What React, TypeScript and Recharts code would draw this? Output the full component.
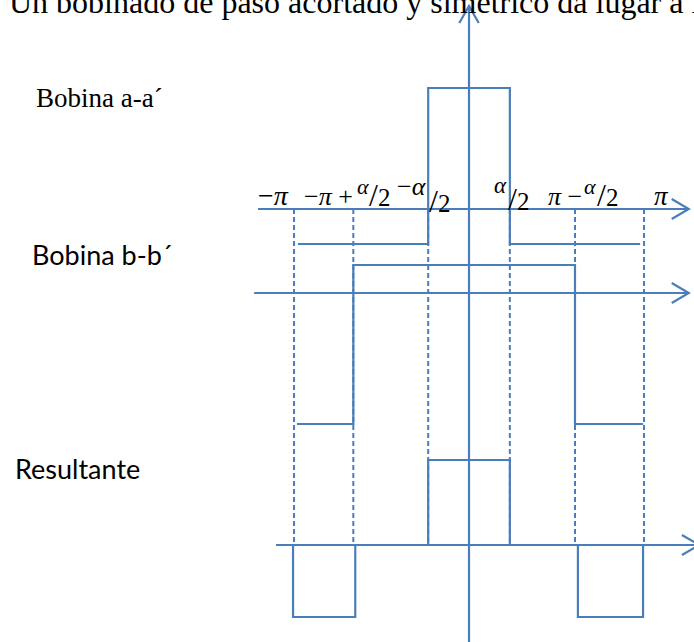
import React from "react";
import { LineChart, Line, XAxis, YAxis } from "recharts";

const W = 694;
const H = 642;
const BLUE = "#4A7EBB";

// electrical angle (degrees) at the marked phases: −π, −π+α/2, −α/2, α/2, π−α/2, π
const phases = [-180, -119, -42, 42, 109, 180];

// Bobina a-a´: wide negative step each side, tall positive pulse in the middle
const bobinaAX = [-176, -42, -42, 42, 42, 176];
const bobinaAY = [-35, -35, 121, 121, -35, -35];

// Bobina b-b´: small positive plateau, deep negative ends
const bobinaBX = [-177, -119, -119, 109, 109, 179];
const bobinaBY = [-131, -131, 28, 28, -131, -131];

// Resultante
const resultX = [-181, -181, -117, -117, -42, -42, 42, 42, 112, 112, 179, 179];
const resultY = [0, -72, -72, 0, 0, 85, 85, 0, 0, -72, -72, 0];

// vertical offset of each trace's zero line
const BASE_A = 336;
const BASE_B = 252;
const BASE_R = 0;

const X_DOMAIN: [number, number] = [-482.4, 231.4];
const Y_DOMAIN: [number, number] = [-97, 545];

type Pt = { x: number; y: number };

const trace = (xs: number[], ys: number[], base: number): Pt[] =>
  xs.map((x, i) => ({ x, y: ys[i] + base }));

// open arrow heads
const arrowRight = (tip: number, y: number, len = 17.5, half = 10): Pt[] => [
  { x: tip - len, y: y + half },
  { x: tip, y },
  { x: tip - len, y: y - half },
];
const arrowUp = (x: number, tip: number, half = 10, len = 17): Pt[] => [
  { x: x - half, y: tip - len },
  { x, y: tip },
  { x: x + half, y: tip - len },
];

const axisLines: Pt[][] = [
  [{ x: -217, y: BASE_A }, { x: 226, y: BASE_A }],
  [{ x: -221, y: BASE_B }, { x: 226, y: BASE_B }],
  [{ x: -198.5, y: BASE_R }, { x: 231.4, y: BASE_R }],
  [{ x: 0, y: -97 }, { x: 0, y: 539 }],
  arrowRight(226, BASE_A),
  arrowRight(226, BASE_B),
  arrowRight(236.5, BASE_R),
  arrowUp(0, 539),
];

const guideLines: Pt[][] = phases.map((p) => [
  { x: p, y: BASE_A },
  { x: p, y: BASE_R },
]);

const waves: Pt[][] = [
  trace(bobinaAX, bobinaAY, BASE_A),
  trace(bobinaBX, bobinaBY, BASE_B),
  trace(resultX, resultY, BASE_R),
];

const mathFont = "'Liberation Serif', serif";

// "/2" of a skewed fraction: tall slash, normal-size digit
const Half = ({ x, y }: { x: number; y: number }) => (
  <text x={x} y={y}>
    <tspan fontSize={32}>/</tspan>
    <tspan fontSize={25}>2</tspan>
  </text>
);

export default function App() {
  return (
    <div
      style={{
        position: "absolute",
        left: 0,
        top: 0,
        width: W,
        height: H,
        overflow: "hidden",
        background: "#fff",
      }}
    >
      <LineChart width={W} height={H} margin={{ top: 0, right: 0, bottom: 0, left: 0 }}>
        <XAxis type="number" dataKey="x" domain={X_DOMAIN} allowDataOverflow hide />
        <YAxis type="number" dataKey="y" domain={Y_DOMAIN} allowDataOverflow hide />
        {guideLines.map((d, i) => (
          <Line
            key={`guide-${i}`}
            data={d}
            dataKey="y"
            stroke={BLUE}
            strokeWidth={2}
            strokeDasharray="5 3"
            dot={false}
            activeDot={false}
            isAnimationActive={false}
          />
        ))}
        {axisLines.map((d, i) => (
          <Line
            key={`axis-${i}`}
            data={d}
            dataKey="y"
            stroke={BLUE}
            strokeWidth={2.2}
            dot={false}
            activeDot={false}
            isAnimationActive={false}
          />
        ))}
        {waves.map((d, i) => (
          <Line
            key={`wave-${i}`}
            data={d}
            dataKey="y"
            stroke={BLUE}
            strokeWidth={2.2}
            dot={false}
            activeDot={false}
            isAnimationActive={false}
          />
        ))}
      </LineChart>
      <svg
        width={W}
        height={H}
        style={{ position: "absolute", left: 0, top: 0, pointerEvents: "none" }}
      >
        <text x={9} y={13} fontFamily="'Liberation Serif', serif" fontSize={32} fill="#000">
          Un bobinado de paso acortado y simétrico da lugar a la
        </text>
        <text x={36} y={107} fontFamily="'Liberation Serif', serif" fontSize={27} fill="#000">
          Bobina a-a´
        </text>
        <text x={32} y={265} fontFamily="Lato, sans-serif" fontSize={27} fill="#000">
          Bobina b-b´
        </text>
        <text x={15} y={479} fontFamily="Lato, sans-serif" fontSize={27} fill="#000">
          Resultante
        </text>

        <g fontFamily={mathFont} fill="#000">
          {/* −π */}
          <text x={258} y={205} fontSize={28}>
            −<tspan fontStyle="italic">π</tspan>
          </text>
          {/* −π + α/2 */}
          <text x={304} y={205} fontSize={26}>
            −<tspan fontStyle="italic">π</tspan> +
          </text>
          <text x={357} y={194} fontSize={22} fontStyle="italic">α</text>
          <Half x={369} y={206} />
          {/* −α/2 */}
          <text x={397} y={195} fontSize={26}>
            −<tspan fontStyle="italic">α</tspan>
          </text>
          <Half x={429} y={212} />
          {/* α/2 */}
          <text x={494} y={193} fontSize={23} fontStyle="italic">α</text>
          <Half x={508} y={210} />
          {/* π − α/2 */}
          <text x={548} y={205} fontSize={26}>
            <tspan fontStyle="italic">π</tspan> −
          </text>
          <text x={584} y={194} fontSize={22} fontStyle="italic">α</text>
          <Half x={597} y={206} />
          {/* π */}
          <text x={654} y={205} fontSize={27} fontStyle="italic">π</text>
        </g>
      </svg>
    </div>
  );
}
